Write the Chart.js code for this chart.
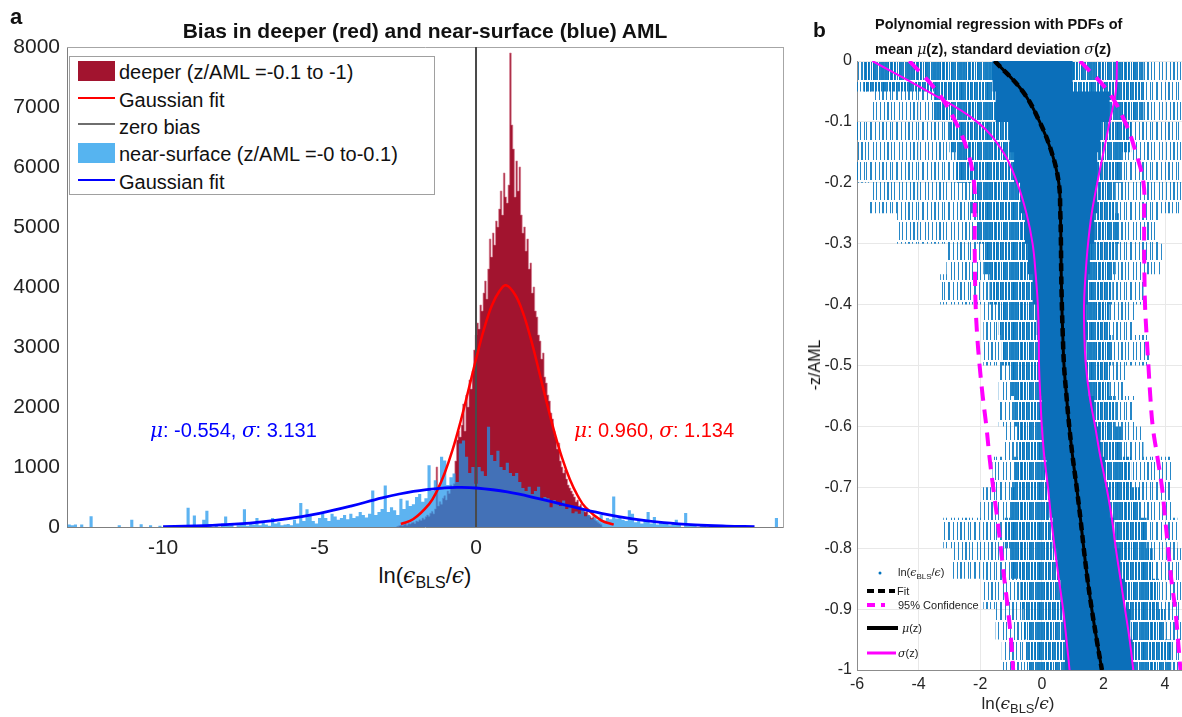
<!DOCTYPE html>
<html>
<head>
<meta charset="utf-8">
<script src="https://cdn.jsdelivr.net/npm/chart.js@4.4.1/dist/chart.umd.min.js"></script>
<style>
body { margin:0; background:#fff; width:1182px; height:717px; overflow:hidden; position:relative;
       font-family: Helvetica, "Liberation Sans", Arial, sans-serif; color:#111; }
canvas { position:absolute; top:0; }
#ca { left:0; }
#cb { left:800px; }
.t { position:absolute; white-space:nowrap; z-index:3; line-height:1; }
.c { transform:translate(-50%,-50%); }
.v { transform:translateY(-50%); }
.m { font-family:"DejaVu Serif","Liberation Serif",serif; font-style:italic; font-weight:normal; }
.sw { position:absolute; z-index:3; }
</style>
</head>
<body>
<canvas id="ca" width="800" height="560" style="width:800px;height:560px"></canvas>
<canvas id="cb" width="382" height="700" style="width:382px;height:700px"></canvas>

<!-- panel a texts -->
<div class="t v" style="left:10px;top:17px;font-weight:bold;font-size:22px">a</div>
<div class="t c" style="left:425px;top:30px;font-weight:bold;font-size:21px">Bias in deeper (red) and near-surface (blue) AML</div>
<div class="sw" style="left:69px;top:56px;width:366px;height:139px;border:1px solid #a0a0a0;background:#fff;box-sizing:border-box;z-index:2"></div>
<div class="sw" style="left:78px;top:61px;width:37px;height:20px;background:#a2142f"></div>
<div class="sw" style="left:78px;top:97px;width:37px;height:2px;background:#ff0000"></div>
<div class="sw" style="left:78px;top:123px;width:37px;height:2px;background:#6e6e6e"></div>
<div class="sw" style="left:78px;top:143px;width:37px;height:20px;background:#56b4f0"></div>
<div class="sw" style="left:78px;top:179px;width:37px;height:2px;background:#0000ff"></div>
<div class="t v" style="left:119px;top:72px;font-size:20px">deeper (z/AML =-0.1 to -1)</div>
<div class="t v" style="left:119px;top:100px;font-size:20px">Gaussian fit</div>
<div class="t v" style="left:119px;top:127px;font-size:20px">zero bias</div>
<div class="t v" style="left:119px;top:154px;font-size:20px">near-surface (z/AML =-0 to-0.1)</div>
<div class="t v" style="left:119px;top:182px;font-size:20px">Gaussian fit</div>
<div class="t v" style="left:150px;top:430px;font-size:20px;color:#0000ff"><span class="m">μ</span>: -0.554, <span class="m">σ</span>: 3.131</div>
<div class="t v" style="left:574px;top:430px;font-size:20px;color:#ff0000"><span class="m">μ</span>: 0.960, <span class="m">σ</span>: 1.134</div>
<div class="t c" style="left:425px;top:578px;font-size:22px">ln(<span class="m">ϵ</span><sub style="font-size:16px">BLS</sub>/<span class="m">ϵ</span>)</div>

<!-- panel b texts -->
<div class="t v" style="left:813px;top:29px;font-weight:bold;font-size:21px">b</div>
<div class="t v" style="left:875px;top:24px;font-weight:bold;font-size:14.5px">Polynomial regression with PDFs of</div>
<div class="t v" style="left:875px;top:49px;font-weight:bold;font-size:14.5px">mean <span class="m">μ</span>(z), standard deviation <span class="m">σ</span>(z)</div>
<div class="t c" style="left:815px;top:365px;font-size:16px;transform:translate(-50%,-50%) rotate(-90deg)">-z/AML</div>
<div class="t c" style="left:1018px;top:705px;font-size:17px;color:#262626">ln(<span class="m">ϵ</span><sub style="font-size:13px">BLS</sub>/<span class="m">ϵ</span>)</div>
<svg class="sw" style="left:860px;top:560px" width="50" height="105">
  <circle cx="20" cy="13" r="1.5" fill="#0072bd"/>
  <line x1="7" y1="31" x2="35" y2="31" stroke="#000" stroke-width="4" stroke-dasharray="7,4"/>
  <line x1="7" y1="45" x2="25" y2="45" stroke="#ff00ff" stroke-width="4" stroke-dasharray="8,6"/>
  <line x1="7" y1="68" x2="38" y2="68" stroke="#000" stroke-width="4"/>
  <line x1="7" y1="93" x2="36" y2="93" stroke="#ff00ff" stroke-width="3"/>
</svg>
<div class="t v" style="left:898px;top:574px;font-size:11px;color:#222">ln(<span class="m">ϵ</span><sub style="font-size:8px">BLS</sub>/<span class="m">ϵ</span>)</div>
<div class="t v" style="left:897px;top:591px;font-size:11px;color:#222">Fit</div>
<div class="t v" style="left:898px;top:605px;font-size:11px;color:#222">95% Confidence</div>
<div class="t v" style="left:902px;top:628px;font-size:11px;color:#222"><span class="m">μ</span>(z)</div>
<div class="t v" style="left:898px;top:653px;font-size:11px;color:#222"><span class="m">σ</span>(z)</div>

<script>
const family = 'Helvetica, "Liberation Sans", Arial, sans-serif';

// ---- panel a: histograms of ln(eps_BLS/eps) ----
const redBinStart = -2.5;
const redBinWidth = 0.05;
const redCounts = [
  10, 20, 30, 20, 40, 50, 30, 60, 50, 70,
  80, 60, 100, 90, 120, 110, 150, 130, 170, 200,
  180, 230, 260, 220, 300, 1000, 350, 420, 380, 480,
  520, 450, 600, 560, 700, 650, 720, 1100, 1450, 1600,
  1500, 1700, 2050, 1600, 2200, 2000, 2450, 2300, 2600, 2950,
  3200, 3400, 3300, 3700, 3600, 3900, 4100, 3800, 4300, 4800,
  4500, 4900, 4700, 5100, 5000, 5300, 5600, 5200, 5900, 5500,
  5400, 5700, 7900, 6700, 6300, 5500, 6100, 5600, 6000, 5200,
  4900, 5000, 4600, 4800, 4300, 4400, 3900, 4000, 3600, 3500,
  3200, 3100, 2800, 2900, 2500, 2400, 2200, 2100, 1900, 1800,
  1600, 1500, 1300, 1400, 1100, 1000, 900, 950, 800, 700,
  650, 600, 550, 500, 420, 450, 350, 380, 300, 280,
  250, 270, 200, 180, 150, 170, 120, 100, 80, 60,
  40
];

const blueBinStart = -13.0;
const blueBinWidth = 0.1;
const blueCounts = [
  40, 30, 40, 0, 40, 0, 0, 180, 0, 0,
  0, 0, 0, 0, 0, 0, 30, 0, 0, 0,
  120, 0, 0, 45, 0, 0, 30, 0, 0, 20,
  0, 0, 20, 0, 0, 0, 0, 0, 320, 0,
  190, 0, 0, 120, 270, 50, 0, 30, 0, 60,
  175, 20, 60, 0, 30, 40, 295, 20, 80, 40,
  150, 30, 100, 40, 20, 150, 60, 80, 30, 40,
  50, 30, 120, 60, 400, 100, 295, 200, 100, 60,
  150, 220, 150, 100, 220, 175, 120, 150, 200, 130,
  220, 150, 180, 250, 200, 160, 220, 610, 200, 250,
  300, 690, 250, 330, 280, 200, 470, 300, 440, 350,
  380, 500, 550, 420, 480, 1030, 600, 780, 650, 1170,
  1110, 700, 830, 890, 750, 1390, 1440, 1170, 900, 1000,
  720, 1000, 930, 850, 1670, 1200, 1100, 1270, 1000, 950,
  1070, 900, 850, 900, 750, 650, 600, 670, 550, 600,
  670, 450, 500, 480, 330, 450, 400, 350, 440, 300,
  330, 230, 260, 220, 280, 180, 200, 130, 160, 120,
  200, 110, 150, 130, 510, 140, 165, 120, 100, 280,
  220, 80, 110, 60, 110, 250, 60, 165, 40, 80,
  60, 80, 30, 50, 120, 40, 0, 233, 20, 30,
  30, 0, 20, 30, 0, 20, 0, 30, 0, 20,
  0, 20, 0, 0, 0, 0, 0, 0, 0, 0,
  0, 0, 0, 0, 0, 0, 150, 0, 0
];

const redFitX = [-2.4, -2, -1.5, -1.25, -1, -0.75, -0.5, -0.25, 0, 0.25, 0.5, 0.75, 0.96,
                 1.25, 1.5, 1.75, 2, 2.25, 2.5, 2.75, 3, 3.25, 3.5, 4, 4.4];
const redFitY = [50, 132, 381, 598, 901, 1284, 1746, 2264, 2795, 3288, 3684, 3932, 4030,
                 3871, 3572, 3139, 2627, 2094, 1590, 1151, 793, 521, 326, 110, 40];
const blueFitX = [-10, -9, -8, -7, -6, -5, -4, -3, -2, -1, -0.55, 0, 1, 2, 3, 4, 5, 6, 7, 8, 8.9];
const blueFitY = [7, 17, 38, 77, 139, 228, 347, 486, 593, 653, 660, 650, 584, 473, 347, 229, 137, 74, 36, 16, 7];
const zeroBiasX = [0, 0];
const zeroBiasY = [0, 8000];

// ---- panel b: profiles against -z/AML ----
const zLevels = [0, -0.05, -0.1, -0.15, -0.2, -0.25, -0.3, -0.35, -0.4, -0.45, -0.5,
                 -0.55, -0.6, -0.65, -0.7, -0.75, -0.8, -0.85, -0.9, -0.95, -1];
const cloudOuterLeft  = [-6.0, -5.5, -6.0, -6.0, -5.6, -4.7, -3.1, -3.3, -1.9, -1.9, -1.4, -1.4, -1.2, -1.6, -2.0, -3.2, -2.9, -1.9, -1.5, -1.3, -1.3];
const cloudOuterRight = [4.6, 4.6, 4.6, 4.6, 4.6, 3.8, 3.9, 3.3, 3.0, 3.5, 2.7, 3.0, 3.3, 4.2, 4.2, 4.4, 4.6, 4.6, 4.6, 4.6, 4.6];
const cloudMidLeft    = [-5.8, -3.5, -3.0, -2.8, -2.3, -2.1, -1.9, -1.7, -1.4, -1.3, -1.0, -0.9, -0.8, -0.9, -1.0, -1.2, -1.0, -0.7, -0.6, -0.5, -0.5];
const cloudMidRight   = [3.3, 3.3, 2.9, 2.6, 2.4, 2.5, 2.4, 2.3, 2.2, 2.3, 2.2, 2.4, 2.6, 2.9, 3.2, 3.4, 3.6, 3.8, 4.0, 4.2, 4.3];
const cloudCoreLeft   = [-1.6, -1.5, -1.05, -0.9, -0.7, -0.55, -0.45, -0.3, -0.17, -0.1, -0.08, 0.0, 0.05, 0.15, 0.25, 0.35, 0.5, 0.6, 0.68, 0.75, 0.8];
const cloudCoreRight  = [1.0, 2.2, 1.9, 1.8, 1.8, 1.7, 1.56, 1.5, 1.46, 1.45, 1.5, 1.7, 1.9, 2.05, 2.2, 2.35, 2.55, 2.7, 2.87, 2.95, 3.0];
const muZ        = [-1.53, -0.62, -0.07, 0.32, 0.55, 0.6, 0.62, 0.63, 0.65, 0.68, 0.72, 0.8, 0.89, 1.0, 1.13, 1.25, 1.36, 1.48, 1.62, 1.78, 1.95];
const sigmaLeft  = [-5.5, -3.7, -2.1, -1.25, -0.8, -0.5, -0.3, -0.2, -0.13, -0.1, -0.09, -0.05, 0.0, 0.08, 0.2, 0.3, 0.42, 0.55, 0.69, 0.8, 0.9];
const sigmaRight = [2.44, 2.4, 2.2, 2.0, 1.8, 1.62, 1.5, 1.42, 1.37, 1.38, 1.43, 1.55, 1.73, 1.9, 2.1, 2.27, 2.4, 2.55, 2.7, 2.85, 2.97];
const confLeft   = [-4.3, -3.4, -2.8, -2.4, -2.2, -2.18, -2.18, -2.17, -2.15, -2.1, -2.02, -1.92, -1.8, -1.7, -1.58, -1.45, -1.33, -1.22, -1.1, -1.0, -0.93];
const confRight  = [1.24, 2.15, 2.7, 3.05, 3.3, 3.32, 3.32, 3.33, 3.35, 3.4, 3.46, 3.52, 3.6, 3.75, 3.9, 4.0, 4.1, 4.2, 4.33, 4.42, 4.5];

// histogram outline points: bin centres, closed with empty bins at both ends
function histPoints(start, width, counts) {
  const pts = [{ x: start - width, y: 0 }];
  counts.forEach((c, i) => pts.push({ x: +(start + i * width).toFixed(3), y: c }));
  pts.push({ x: start + counts.length * width, y: 0 });
  return pts;
}
const pairs = (xs, ys) => xs.map((x, i) => ({ x: x, y: ys[i] }));

const tickFontA = { family: family, size: 21 };

new Chart(document.getElementById('ca'), {
  type: 'line',
  data: {
    datasets: [
      { label: 'deeper', data: histPoints(redBinStart, redBinWidth, redCounts), stepped: 'middle',
        fill: 'origin', backgroundColor: '#a2142f', borderColor: 'rgba(214,125,145,0.85)', borderWidth: 0.8, order: 6 },
      { label: 'near-surface', data: histPoints(blueBinStart, blueBinWidth, blueCounts), stepped: 'middle',
        fill: 'origin', backgroundColor: 'rgba(30,150,235,0.72)', borderWidth: 0, order: 5 },
      { label: 'zero bias', data: pairs(zeroBiasX, zeroBiasY), borderColor: '#4a4a4a', borderWidth: 2, order: 3 },
      { label: 'Gaussian fit red', data: pairs(redFitX, redFitY), borderColor: '#ff0000', borderWidth: 2.5, tension: 0.4, order: 2 },
      { label: 'Gaussian fit blue', data: pairs(blueFitX, blueFitY), borderColor: '#0000ff', borderWidth: 2.8, tension: 0.4, order: 1 }
    ]
  },
  options: {
    responsive: false,
    animation: false,
    layout: { padding: { top: 47, right: 17, left: 0, bottom: 0 } },
    elements: { point: { radius: 0 } },
    plugins: { legend: { display: false }, tooltip: { enabled: false } },
    scales: {
      x: {
        type: 'linear', min: -13.07, max: 9.81,
        ticks: { stepSize: 5, includeBounds: false, color: '#222', font: tickFontA, padding: 9, maxRotation: 0,
                 callback: v => String(v) },
        grid: { display: false, drawTicks: false },
        border: { color: '#7f7f7f' },
        afterFit: s => { s.height = 33; }
      },
      y: {
        min: 0, max: 8000,
        ticks: { stepSize: 1000, color: '#222', font: tickFontA, padding: 7, callback: v => String(v) },
        grid: { display: false, drawTicks: false },
        border: { color: '#7f7f7f' },
        afterFit: s => { s.width = 67; }
      },
      xTop: {
        type: 'linear', position: 'top', min: -13.07, max: 9.81,
        ticks: { display: false }, grid: { display: false, drawTicks: false },
        border: { color: '#a6a6a6' },
        afterFit: s => { s.height = 0; }
      },
      yRight: {
        position: 'right', min: 0, max: 8000,
        ticks: { display: false }, grid: { display: false, drawTicks: false },
        border: { color: '#a6a6a6' },
        afterFit: s => { s.width = 0; }
      }
    }
  }
});

// ---- panel b ----
const ctxB = document.getElementById('cb').getContext('2d');
function stripePattern(rowA, rowB, tileW, rowH, color) {
  const tile = document.createElement('canvas');
  tile.width = tileW;
  tile.height = rowH * 2;
  const g = tile.getContext('2d');
  g.fillStyle = color;
  rowA.forEach(([x, w]) => g.fillRect(x, 2, w, rowH - 2));
  rowB.forEach(([x, w]) => g.fillRect(x, rowH + 2, w, rowH - 2));
  return ctxB.createPattern(tile, 'repeat');
}
const sparseFill = stripePattern(
  [[1, 1], [4, 2], [8, 1], [12, 1], [14, 1], [18, 2], [23, 1]],
  [[2, 1], [6, 1], [9, 2], [13, 1], [16, 1], [21, 1], [24, 1]],
  26, 20, 'rgba(0,114,189,0.85)');
const denseFill = stripePattern(
  [[0, 2], [3, 1], [5, 3], [9, 1], [11, 2], [14, 3], [18, 1], [20, 2], [23, 2]],
  [[1, 1], [3, 3], [7, 2], [10, 1], [12, 3], [16, 2], [19, 1], [21, 3], [25, 1]],
  26, 20, 'rgba(0,114,189,0.9)');

const prof = xs => zLevels.map((z, i) => ({ x: xs[i], y: z }));
const tickFontB = { family: family, size: 16 };

new Chart(ctxB, {
  type: 'line',
  data: {
    datasets: [
      { data: prof(cloudOuterLeft), fill: '+1', backgroundColor: sparseFill, borderWidth: 0, stepped: 'after', order: 20 },
      { data: prof(cloudOuterRight), fill: false, borderWidth: 0, stepped: 'after', order: 20 },
      { data: prof(cloudMidLeft), fill: '+1', backgroundColor: denseFill, borderWidth: 0, stepped: 'after', order: 19 },
      { data: prof(cloudMidRight), fill: false, borderWidth: 0, stepped: 'after', order: 19 },
      { data: prof(cloudCoreLeft), fill: '+1', backgroundColor: '#0b6fba', borderWidth: 0, stepped: 'after', order: 18 },
      { data: prof(cloudCoreRight), fill: false, borderWidth: 0, stepped: 'after', order: 18 },
      { data: prof(confLeft), borderColor: '#ff00ff', borderWidth: 4, borderDash: [14, 9], tension: 0.4, order: 5 },
      { data: prof(confRight), borderColor: '#ff00ff', borderWidth: 4, borderDash: [14, 9], tension: 0.4, order: 5 },
      { data: prof(sigmaLeft), borderColor: '#ff00ff', borderWidth: 2, tension: 0.4, order: 4 },
      { data: prof(sigmaRight), borderColor: '#ff00ff', borderWidth: 2, tension: 0.4, order: 4 },
      { data: prof(muZ), borderColor: '#000', borderWidth: 3, tension: 0.4, order: 3 },
      { data: prof(muZ), borderColor: '#000', borderWidth: 4.5, borderDash: [8, 5], tension: 0.4, order: 2 }
    ]
  },
  options: {
    responsive: false,
    animation: false,
    indexAxis: 'y',
    layout: { padding: { top: 61, right: 0, left: 0, bottom: 0 } },
    elements: { point: { radius: 0 } },
    plugins: { legend: { display: false }, tooltip: { enabled: false } },
    scales: {
      x: {
        type: 'linear', min: -6, max: 4.55,
        ticks: { stepSize: 2, includeBounds: false, color: '#262626', font: tickFontB, padding: 5, maxRotation: 0,
                 callback: v => String(v) },
        grid: { color: '#e8e8e8', drawTicks: false },
        border: { color: '#8c8c8c' },
        afterFit: s => { s.height = 30; }
      },
      y: {
        type: 'linear', min: -1, max: 0,
        ticks: { stepSize: 0.1, color: '#262626', font: tickFontB, padding: 5,
                 callback: v => String(Math.round(v * 10) / 10) },
        grid: { color: '#e8e8e8', drawTicks: false },
        border: { color: '#8c8c8c' },
        afterFit: s => { s.width = 57; }
      }
    }
  }
});
</script>
</body>
</html>
